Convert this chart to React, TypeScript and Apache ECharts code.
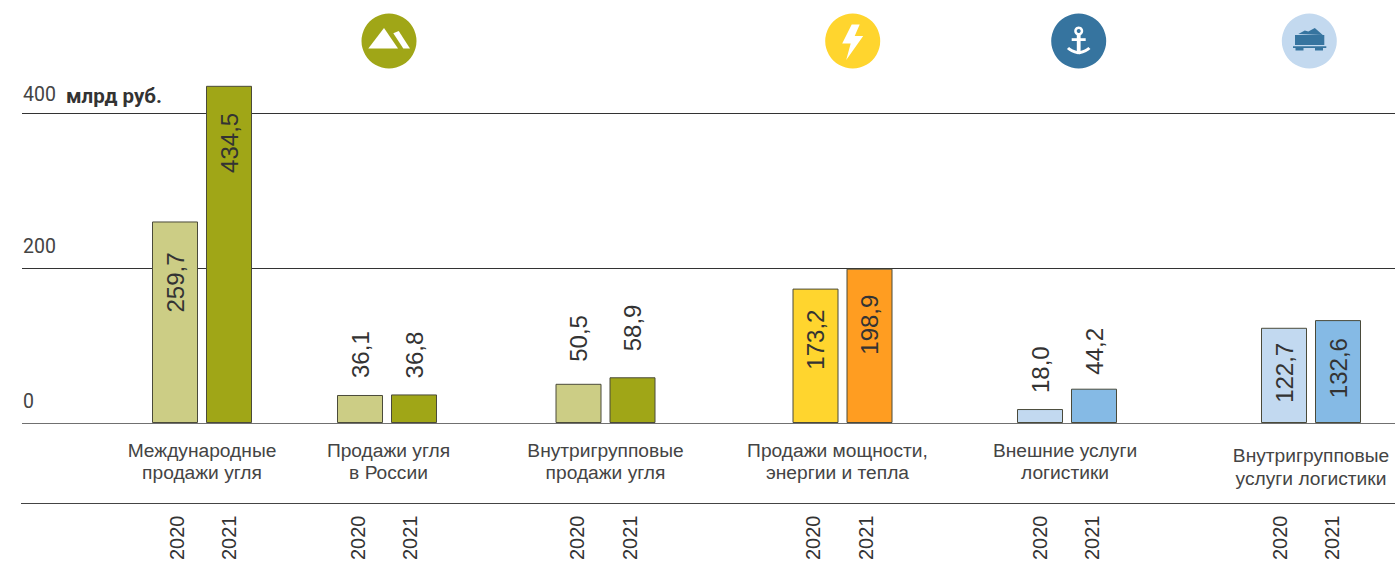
import React, { useEffect, useRef } from "react";
import * as echarts from "echarts";

const categories = [
  "Международные\nпродажи угля",
  "Продажи угля\nв России",
  "Внутригрупповые\nпродажи угля",
  "Продажи мощности,\nэнергии и тепла",
  "Внешние услуги\nлогистики",
  "Внутригрупповые\nуслуги логистики",
];
const years = ["2020", "2021"];
const values2020 = [259.7, 36.1, 50.5, 173.2, 18.0, 122.7];
const values2021 = [434.5, 36.8, 58.9, 198.9, 44.2, 132.6];
const colors2020 = ["#cccd85", "#cccd85", "#cccd85", "#ffd52e", "#c2d9f0", "#c2d9f0"];
const colors2021 = ["#a0a617", "#a0a617", "#a0a617", "#ff9d21", "#85bae5", "#85bae5"];
const yTicks = [0, 200, 400];

const W = 1395;
const H = 563;
const PLOT_TOP = 113.5;
const PLOT_H = 309.5;
const BAR_TOP = 112.6;
const BAR_H = 310.4;
const barCentres = [202, 387, 605.5, 842.5, 1067, 1311];
const yearCentres = [203, 384, 603.5, 839.5, 1066, 1306];
const labelCentres = [202, 388.5, 605.5, 837.5, 1065, 1311];
const labelMiddles = [461.5, 461.5, 461.5, 461.5, 461.5, 467];
const labelGap2020 = [31, 17, 22, 21, 16, 15];
const labelGap2021 = [27, 16, 26, 26, 14, 18];
const TEXT = "#333333";
const SANS = "'Liberation Sans', Arial, sans-serif";

const fmt = (v: number) => v.toFixed(1).replace(".", ",");

function buildOption() {
  const grid: any[] = [{ left: 22, right: 0, top: PLOT_TOP, height: PLOT_H }];
  const xAxis: any[] = [
    { type: "category", gridIndex: 0, show: false, data: years },
  ];
  const tickText = { color: "#444444", fontFamily: "Roboto", fontSize: 19.5 };
  const yAxis: any[] = [
    {
      type: "value",
      gridIndex: 0,
      min: 0,
      max: 400,
      interval: 200,
      axisLine: { show: false },
      axisTick: { show: false },
      splitLine: { show: true, lineStyle: { color: ["#707070", "#333333", "#333333"], width: 1 } },
      axisLabel: {
        inside: true,
        margin: 1,
        verticalAlign: "bottom",
        customValues: yTicks,
        ...tickText,
        formatter: (v: number) => (v === 400 ? `{t|${v}}` : `{b|${v}}`),
        rich: {
          t: { ...tickText, padding: [0, 0, 9, 0] },
          b: { ...tickText, padding: [0, 0, 12, 0] },
        },
      },
    },
  ];
  const series: any[] = [];

  categories.forEach((_, i) => {
    const barIdx = grid.length;
    grid.push({ left: barCentres[i] - 54, width: 108, top: BAR_TOP, height: BAR_H });
    xAxis.push({
      type: "category",
      gridIndex: barIdx,
      data: years,
      axisLine: { show: false },
      axisTick: { show: false },
      axisLabel: { show: false },
    });
    yAxis.push({ type: "value", gridIndex: barIdx, min: 0, max: 400, interval: 200, show: false, splitLine: { show: false } });

    const point = (v: number, c: string, gap: number) => ({
      value: v,
      itemStyle: { color: c },
      label: {
        show: true,
        rotate: 90,
        position: v > 100 ? "insideTop" : "top",
        distance: gap,
        align: v > 100 ? "right" : "left",
        verticalAlign: "middle",
        formatter: () => fmt(v),
        color: TEXT,
        fontFamily: SANS,
        fontSize: 24,
      },
    });
    series.push({
      type: "bar",
      xAxisIndex: barIdx,
      yAxisIndex: barIdx,
      barWidth: 46,
      clip: false,
      itemStyle: { borderColor: "#4a4a3a", borderWidth: 1 },
      data: [
        point(values2020[i], colors2020[i], labelGap2020[i]),
        point(values2021[i], colors2021[i], labelGap2021[i]),
      ],
    });

    const yearIdx = grid.length;
    grid.push({ left: yearCentres[i] - 52.5, width: 105, top: PLOT_TOP, height: PLOT_H });
    xAxis.push({
      type: "category",
      gridIndex: yearIdx,
      data: years,
      axisLine: { show: false },
      axisTick: { show: false },
      axisLabel: {
        show: true,
        interval: 0,
        rotate: 90,
        margin: 96,
        color: TEXT,
        fontFamily: SANS,
        fontSize: 20,
      },
    });
    yAxis.push({ type: "value", gridIndex: yearIdx, min: 0, max: 400, show: false, splitLine: { show: false } });
  });

  const tx = (cx: number, pts: number[][]) => pts.map(([x, y]) => [cx + x, 41 + y]);
  const graphic: any[] = [
    { type: "line", shape: { x1: 21, y1: 503.5, x2: W, y2: 503.5 }, style: { stroke: "#444444", lineWidth: 1 } },
    {
      type: "text",
      x: 66,
      y: 96,
      style: { text: "млрд руб.", fill: "#333333", font: "700 20.5px Roboto", textVerticalAlign: "middle" },
    },
    ...categories.map((text, i) => ({
      type: "text",
      x: labelCentres[i],
      y: labelMiddles[i],
      style: {
        text,
        fill: "#444444",
        font: `19.2px ${SANS}`,
        lineHeight: 22.5,
        textAlign: "center",
        textVerticalAlign: "middle",
      },
    })),
    // mountains
    { type: "circle", shape: { cx: 389, cy: 41, r: 27.5 }, style: { fill: "#a0a617" } },
    { type: "polygon", shape: { points: tx(389, [[-20.7, 7.5], [-5, -13], [9, 7.5]]) }, style: { fill: "#fff" } },
    { type: "polygon", shape: { points: tx(389, [[4.3, -7.7], [9.7, -10], [21, 7.5], [14.3, 7.5]]) }, style: { fill: "#fff" } },
    // bolt
    { type: "circle", shape: { cx: 852.7, cy: 41, r: 27.5 }, style: { fill: "#ffd52e" } },
    {
      type: "polygon",
      shape: { points: tx(852.7, [[-1, -16.5], [7, -16.5], [2, -5], [10.5, -5], [-6.5, 19], [-2, 2.5], [-10.5, 2.5]]) },
      style: { fill: "#fff" },
    },
    // anchor
    { type: "circle", shape: { cx: 1078.7, cy: 41, r: 27.5 }, style: { fill: "#36749f" } },
    { type: "ring", shape: { cx: 1078.7, cy: 31, r: 4.5, r0: 2 }, style: { fill: "#fff" } },
    { type: "rect", shape: { x: 1076.8, y: 35, width: 3.8, height: 19 }, style: { fill: "#fff" } },
    { type: "rect", shape: { x: 1071.7, y: 38.2, width: 14, height: 2.8 }, style: { fill: "#fff" } },
    {
      type: "bezierCurve",
      shape: { x1: 1068, y1: 48, cpx1: 1071, cpy1: 51, x2: 1078.7, y2: 53, cpx2: 1075, cpy2: 52 },
      style: { stroke: "#fff", lineWidth: 3, fill: "none" },
    },
    {
      type: "bezierCurve",
      shape: { x1: 1089.4, y1: 48, cpx1: 1086.4, cpy1: 51, x2: 1078.7, y2: 53, cpx2: 1082.4, cpy2: 52 },
      style: { stroke: "#fff", lineWidth: 3, fill: "none" },
    },
    // wagon
    { type: "circle", shape: { cx: 1309.3, cy: 41, r: 27.5 }, style: { fill: "#c3d9ef" } },
    { type: "rect", shape: { x: 1295, y: 35, width: 29.3, height: 10 }, style: { fill: "#36749f" } },
    {
      type: "polygon",
      shape: { points: tx(1309.3, [[-11, -7], [-4.5, -10.5], [-1, -9.5], [5.5, -13], [13.5, -6]]) },
      style: { fill: "#36749f" },
    },
    { type: "rect", shape: { x: 1293, y: 46.2, width: 33.3, height: 1.9 }, style: { fill: "#36749f" } },
    { type: "rect", shape: { x: 1295.5, y: 48, width: 8, height: 2.5 }, style: { fill: "#36749f" } },
    { type: "rect", shape: { x: 1315, y: 48, width: 8, height: 2.5 }, style: { fill: "#36749f" } },
  ];

  return { animation: false, backgroundColor: "#ffffff", grid, xAxis, yAxis, series, graphic };
}

export default function App() {
  const ref = useRef<HTMLDivElement>(null);
  useEffect(() => {
    const chart = echarts.init(ref.current!, undefined, { renderer: "svg" });
    chart.setOption(buildOption() as any);
    return () => chart.dispose();
  }, []);
  return <div ref={ref} style={{ position: "fixed", left: 0, top: 0, width: W, height: H }} />;
}
